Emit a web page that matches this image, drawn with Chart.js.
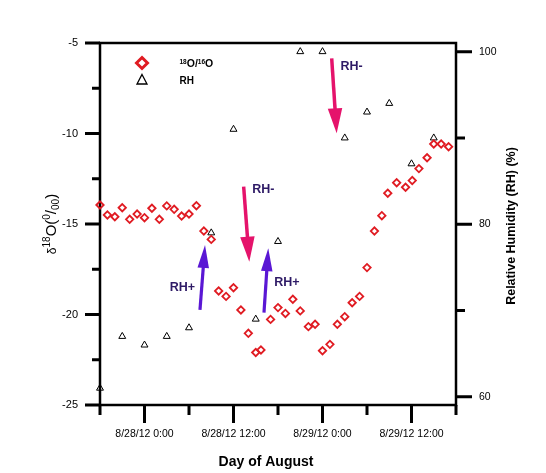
<!DOCTYPE html>
<html>
<head>
<meta charset="utf-8">
<script src="https://cdn.jsdelivr.net/npm/chart.js@4.4.0/dist/chart.umd.min.js"></script>
<style>
  html, body { margin: 0; padding: 0; background: #fff; }
  #wrap { width: 546px; height: 473px; }
</style>
</head>
<body>
<div id="wrap"><canvas id="chart" width="546" height="473"></canvas></div>
<script>
// time in hours counted from 8/28/12 0:00
const o18Hours = [-6,-5,-4,-3,-2,-1,0,1,2,3,4,5,6,7,8,9,10,11,12,13,14,15,15.7,17,18,19,20,21,22.1,23,24,25,26,27,28,29,30,31,32,32.8,34,35.2,36.1,37,38.1,39,40,41];
const o18Values = [-13.95,-14.5,-14.6,-14.1,-14.74,-14.45,-14.65,-14.13,-14.74,-14.0,-14.19,-14.56,-14.45,-13.99,-15.39,-15.85,-18.7,-19.0,-18.52,-19.75,-21.04,-22.1,-21.96,-20.27,-19.62,-19.94,-19.16,-19.8,-20.67,-20.54,-22.0,-21.65,-20.54,-20.12,-19.35,-19.0,-17.41,-15.39,-14.54,-13.3,-12.72,-12.97,-12.6,-11.94,-11.34,-10.58,-10.58,-10.73];

const rhHours = [-6,-3,0,3,6,9,12,15,18,21,24,27,30,33,36,39];
const rhValues = [61,67,66,67,68,79,91,69,78,100,100,90,93,94,87,90];

const xTicks = [-6,0,6,12,18,24,30,36,42];
const xTickLabels = {0: '8/28/12 0:00', 12: '8/28/12 12:00', 24: '8/29/12 0:00', 36: '8/29/12 12:00'};
const yTicks = [-25,-22.5,-20,-17.5,-15,-12.5,-10,-7.5,-5];
const y2Ticks = [60,70,80,90,100];

// arrows: [hours, delta] in left-axis units
const arrowNotes = [
  { from: [7.48, -19.75], to: [8.16, -16.16], color: '#5a17d4', label: 'RH+', at: [5.1, -18.52] },
  { from: [13.37, -12.94], to: [14.13, -17.08], color: '#e5136b', label: 'RH-', at: [16.02, -13.12] },
  { from: [16.11, -19.9], to: [16.69, -16.34], color: '#5a17d4', label: 'RH+', at: [19.2, -18.26] },
  { from: [25.24, -5.85], to: [25.91, -9.99], color: '#e5136b', label: 'RH-', at: [27.93, -6.31] }
];

const FONT = '"Liberation Sans", Arial, sans-serif';
const RED = '#e01b22';

function drawParts(ctx, parts, x, y, align) {
  let total = 0;
  parts.forEach(p => {
    ctx.font = (p.bold ? 'bold ' : '') + p.size + 'px ' + FONT;
    p.w = ctx.measureText(p.t).width;
    total += p.w;
  });
  let cx = align === 'center' ? x - total / 2 : x;
  ctx.textAlign = 'left';
  ctx.textBaseline = 'alphabetic';
  parts.forEach(p => {
    ctx.font = (p.bold ? 'bold ' : '') + p.size + 'px ' + FONT;
    ctx.fillText(p.t, cx, y + (p.dy || 0));
    cx += p.w;
  });
}

function arrow(ctx, x1, y1, x2, y2, color, sw, hl, hw) {
  const ang = Math.atan2(y2 - y1, x2 - x1);
  const bx = x2 - Math.cos(ang) * hl, by = y2 - Math.sin(ang) * hl;
  ctx.strokeStyle = color;
  ctx.lineWidth = sw;
  ctx.beginPath();
  ctx.moveTo(x1, y1);
  ctx.lineTo(bx + Math.cos(ang) * 2, by + Math.sin(ang) * 2);
  ctx.stroke();
  ctx.fillStyle = color;
  ctx.beginPath();
  ctx.moveTo(x2, y2);
  ctx.lineTo(bx + Math.sin(ang) * hw / 2, by - Math.cos(ang) * hw / 2);
  ctx.lineTo(bx - Math.sin(ang) * hw / 2, by + Math.cos(ang) * hw / 2);
  ctx.closePath();
  ctx.fill();
}

const framePlugin = {
  id: 'frame',
  beforeDatasetsDraw(chart) {
    const { ctx, chartArea: a, scales } = chart;
    ctx.save();
    ctx.strokeStyle = '#000';
    ctx.lineWidth = 2.5;
    ctx.strokeRect(a.left, a.top, a.right - a.left, a.bottom - a.top);
    ctx.lineWidth = 3;
    ctx.beginPath();
    yTicks.forEach(v => {
      const p = scales.y.getPixelForValue(v);
      const len = v % 5 === 0 ? 15 : 8;
      ctx.moveTo(a.left, p);
      ctx.lineTo(a.left - len, p);
    });
    y2Ticks.forEach(v => {
      const p = scales.y2.getPixelForValue(v);
      const len = v % 20 === 0 ? 16 : 9;
      ctx.moveTo(a.right, p);
      ctx.lineTo(a.right + len, p);
    });
    xTicks.forEach(v => {
      const p = scales.x.getPixelForValue(v);
      const len = xTickLabels[v] ? 18 : 10;
      ctx.moveTo(p, a.bottom);
      ctx.lineTo(p, a.bottom + len);
    });
    ctx.stroke();
    ctx.restore();
  },
  afterDraw(chart) {
    const { ctx, scales } = chart;
    ctx.save();
    ctx.fillStyle = '#000';

    // left axis title
    ctx.save();
    ctx.translate(56, 224);
    ctx.rotate(-Math.PI / 2);
    drawParts(ctx, [
      { t: '\u03b4', size: 12 },
      { t: '18', size: 10, dy: -6.5 },
      { t: 'O(', size: 15 },
      { t: '0', size: 10, dy: -6.5 },
      { t: '/', size: 15 },
      { t: '00', size: 10, dy: 3 },
      { t: ')', size: 15 }
    ], 0, 0, 'center');
    ctx.restore();

    // right axis title
    ctx.save();
    ctx.translate(515, 226);
    ctx.rotate(-Math.PI / 2);
    ctx.font = 'bold 12.5px ' + FONT;
    ctx.textAlign = 'center';
    ctx.textBaseline = 'alphabetic';
    ctx.fillText('Relative Humidity (RH) (%)', 0, 0);
    ctx.restore();

    // x axis title
    ctx.font = 'bold 14px ' + FONT;
    ctx.textAlign = 'center';
    ctx.textBaseline = 'middle';
    ctx.fillText('Day of August', 266, 462);

    // legend
    ctx.strokeStyle = RED;
    ctx.lineWidth = 3;
    ctx.beginPath();
    ctx.moveTo(142, 57.5); ctx.lineTo(147.5, 63); ctx.lineTo(142, 68.5); ctx.lineTo(136.5, 63);
    ctx.closePath();
    ctx.stroke();
    ctx.strokeStyle = '#000';
    ctx.lineWidth = 1.3;
    ctx.beginPath();
    ctx.moveTo(142, 74.5); ctx.lineTo(147, 84); ctx.lineTo(137, 84);
    ctx.closePath();
    ctx.stroke();
    ctx.fillStyle = '#000';
    drawParts(ctx, [
      { t: '18', size: 6.5, bold: true, dy: -3.5 },
      { t: 'O/', size: 10.5, bold: true },
      { t: '16', size: 6.5, bold: true, dy: -3.5 },
      { t: 'O', size: 10.5, bold: true }
    ], 179.5, 67, 'left');
    drawParts(ctx, [{ t: 'RH', size: 10, bold: true }], 179.5, 84, 'left');

    // arrows and labels
    arrowNotes.forEach(n => {
      const x1 = scales.x.getPixelForValue(n.from[0]), y1 = scales.y.getPixelForValue(n.from[1]);
      const x2 = scales.x.getPixelForValue(n.to[0]), y2 = scales.y.getPixelForValue(n.to[1]);
      const pink = n.label === 'RH-';
      arrow(ctx, x1, y1, x2, y2, n.color, pink ? 3.5 : 3.2, pink ? 25 : 23, pink ? 14.5 : 11.5);
      ctx.fillStyle = '#2e1a66';
      ctx.font = 'bold 12.5px ' + FONT;
      ctx.textAlign = 'center';
      ctx.textBaseline = 'middle';
      ctx.fillText(n.label, scales.x.getPixelForValue(n.at[0]), scales.y.getPixelForValue(n.at[1]));
    });
    ctx.restore();
  }
};

const ctx = document.getElementById('chart').getContext('2d');
const chart = new Chart(ctx, {
  type: 'scatter',
  data: {
    datasets: [{
      label: '18O/16O',
      data: o18Hours.map((h, i) => ({ x: h, y: o18Values[i] })),
      yAxisID: 'y',
      pointStyle: 'rectRot',
      pointRadius: 3.7,
      pointBorderWidth: 1.8,
      borderColor: RED,
      backgroundColor: 'rgba(0,0,0,0)',
      showLine: false,
      clip: false
    }, {
      label: 'RH',
      data: rhHours.map((h, i) => ({ x: h, y: rhValues[i] })),
      yAxisID: 'y2',
      pointStyle: 'triangle',
      pointRadius: 4,
      pointBorderWidth: 1,
      borderColor: '#000',
      backgroundColor: 'rgba(0,0,0,0)',
      showLine: false,
      clip: false
    }]
  },
  options: {
    responsive: false,
    animation: false,
    layout: { padding: { top: 43, left: 0, right: 0, bottom: 0 } },
    plugins: {
      legend: { display: false },
      tooltip: { enabled: false }
    },
    scales: {
      x: {
        type: 'linear',
        position: 'bottom',
        min: -6,
        max: 42,
        afterBuildTicks: s => { s.ticks = xTicks.map(v => ({ value: v })); },
        afterFit: s => { s.height = 68; },
        ticks: {
          callback: v => xTickLabels[v] || '',
          color: '#000',
          font: { family: FONT, size: 10.5 },
          padding: 5,
          maxRotation: 0,
          autoSkip: false
        },
        grid: { display: true, drawOnChartArea: false, drawTicks: true, tickLength: 18, tickColor: 'rgba(0,0,0,0)' },
        border: { display: false }
      },
      y: {
        position: 'left',
        min: -25,
        max: -5,
        afterBuildTicks: s => { s.ticks = yTicks.map(v => ({ value: v })); },
        afterFit: s => { s.width = 100; },
        ticks: {
          callback: v => (v % 5 === 0 ? String(v) : ''),
          color: '#000',
          font: { family: FONT, size: 11 },
          padding: 7
        },
        grid: { display: true, drawOnChartArea: false, drawTicks: true, tickLength: 15, tickColor: 'rgba(0,0,0,0)' },
        border: { display: false }
      },
      y2: {
        position: 'right',
        min: 59.05,
        max: 101,
        afterBuildTicks: s => { s.ticks = y2Ticks.map(v => ({ value: v })); },
        afterFit: s => { s.width = 90; },
        ticks: {
          callback: v => (v % 20 === 0 ? String(v) : ''),
          color: '#000',
          font: { family: FONT, size: 10.5 },
          padding: 7
        },
        grid: { display: true, drawOnChartArea: false, drawTicks: true, tickLength: 16, tickColor: 'rgba(0,0,0,0)' },
        border: { display: false }
      }
    }
  },
  plugins: [framePlugin]
});
</script>
</body>
</html>
